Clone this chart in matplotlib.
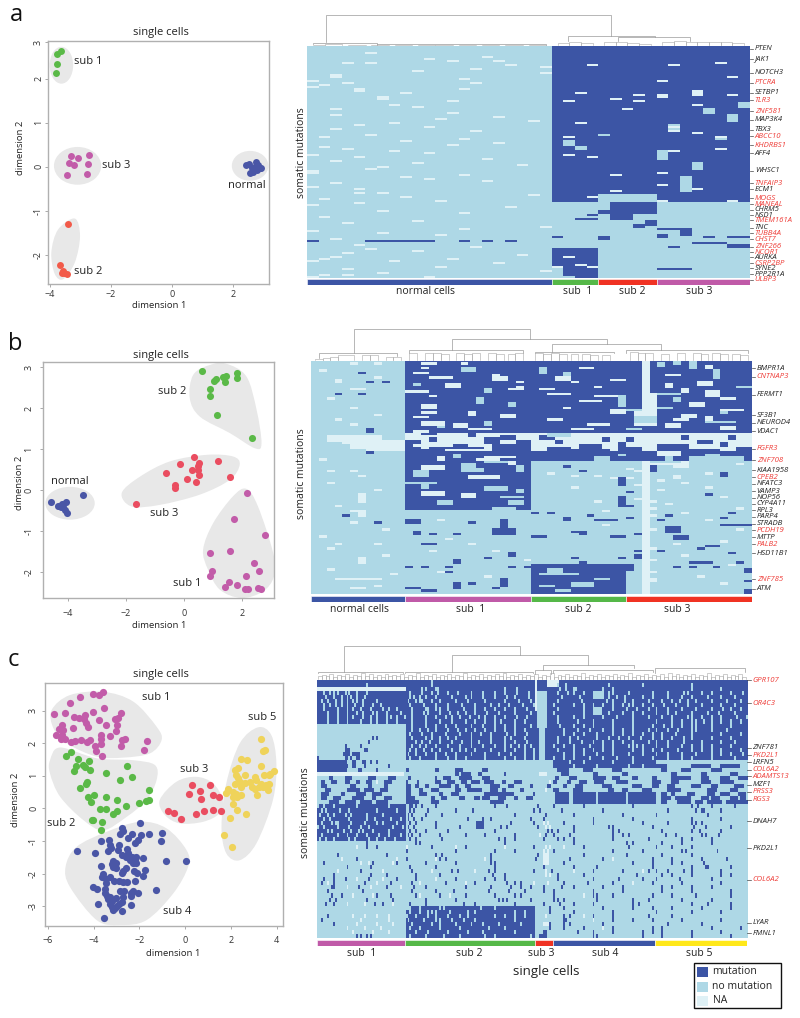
import numpy as np
import matplotlib
matplotlib.use('Agg')
import matplotlib.pyplot as plt
from matplotlib.colors import ListedColormap
from matplotlib.patches import Ellipse, PathPatch, Rectangle
from matplotlib.path import Path

plt.rcParams['font.family'] = ['Open Sans', 'DejaVu Sans']

W, H = 800, 1018
BLUE, GREEN, MAGENTA = '#4a56a6', '#5ab947', '#c25ca9'
RED_A, RED, YELLOW = '#f25a49', '#ea4d60', '#efd35a'
BAR_BLUE, BAR_GREEN, BAR_RED = '#3c55a5', '#55b848', '#f03223'
BAR_MAGENTA, BAR_YELLOW = '#c05aa8', '#ffe81a'
C_MUT, C_NO, C_NA = '#3c55a5', '#aed8e6', '#dff1f6'
BLOB = '#e8e8e8'
RED_TXT = '#ee3b36'

# ---- panel a scatter
a_sub1_x = [-3.63, -3.77, -3.77, -3.80]
a_sub1_y = [2.63, 2.57, 2.34, 2.14]
a_sub3_x = [-3.30, -3.08, -2.74, -3.39, -3.21, -2.77, -3.44, -2.78]
a_sub3_y = [0.24, 0.20, 0.27, 0.08, 0.03, 0.06, -0.20, -0.17]
a_sub2_x = [-3.41, -3.66, -3.57, -3.62, -3.54, -3.46]
a_sub2_y = [-1.31, -2.23, -2.37, -2.43, -2.42, -2.45]
a_norm_x = [2.44, 2.55, 2.75, 2.71, 2.82, 2.90, 2.77, 2.62, 2.66, 2.51, 2.93, 2.74]
a_norm_y = [0.04, -0.15, 0.11, 0.00, 0.04, -0.04, -0.08, -0.04, -0.11, 0.06, -0.02, 0.02]

# ---- panel b scatter
b_sub2_x = [0.61, 1.82, 1.81, 1.45, 1.34, 1.40, 1.11, 1.02, 0.89, 0.89, 1.12, 2.33]
b_sub2_y = [2.91, 2.85, 2.74, 2.77, 2.75, 2.64, 2.70, 2.65, 2.47, 2.30, 1.82, 1.28]
b_sub3_x = [0.34, 0.50, 1.15, -0.15, 0.48, 0.27, 0.48, -0.64, 0.52, 1.59, 0.10, 0.42, -0.33, -0.33, -1.65]
b_sub3_y = [0.80, 0.67, 0.70, 0.63, 0.58, 0.48, 0.48, 0.41, 0.37, 0.32, 0.27, 0.19, 0.13, 0.06, -0.33]
b_norm_x = [-3.47, -4.57, -4.08, -4.20, -4.34, -4.16, -4.23, -4.10, -4.04]
b_norm_y = [-0.11, -0.28, -0.30, -0.33, -0.38, -0.40, -0.42, -0.48, -0.55]
b_sub1_x = [2.16, 1.70, 2.78, 0.89, 1.58, 2.41, 2.58, 0.96, 0.89, 2.14, 1.55, 1.82, 1.42, 2.08, 2.20, 2.55, 2.65]
b_sub1_y = [-0.08, -0.70, -1.10, -1.53, -1.49, -1.78, -1.96, -1.96, -2.10, -2.09, -2.25, -2.32, -2.37, -2.42, -2.42, -2.39, -2.40]

# ---- panel c scatter
c_sub1_x = [-3.61, -3.76, -4.03, -4.60, -5.04, -3.57, -4.02, -5.73, -5.27, -4.38, -4.86, -4.63, -4.41, -3.77,
            -2.81, -2.95, -3.09, -3.00, -5.37, -4.34, -4.24, -3.46, -4.91, -3.04, -5.51, -5.33, -5.65, -5.39,
            -3.68, -3.30, -5.41, -5.24, -4.99, -4.82, -4.56, -4.28, -4.18, -3.68, -3.70, -2.61, -2.78, -2.79,
            -1.67, -3.96, -3.89, -1.78, -3.65]
c_sub1_y = [3.58, 3.48, 3.50, 3.41, 3.23, 3.09, 2.97, 2.91, 2.92, 2.87, 2.81, 2.79, 2.74, 2.73,
            2.92, 2.78, 2.74, 2.57, 2.57, 2.61, 2.49, 2.57, 2.47, 2.38, 2.45, 2.41, 2.26, 2.25,
            2.26, 2.22, 2.12, 2.12, 2.03, 2.06, 2.10, 2.04, 2.10, 2.12, 1.98, 2.14, 2.10, 1.93,
            2.07, 1.91, 1.75, 1.79, 1.60]
c_sub2_x = [-5.01, -5.20, -4.69, -4.21, -4.77, -4.48, -4.40, -4.85, -4.16, -2.56, -3.45, -2.31, -2.87, -4.31,
            -4.34, -4.59, -1.56, -4.00, -4.24, -3.45, -4.13, -3.00, -1.72, -1.57, -2.04, -2.58, -3.73, -3.46,
            -2.97, -3.14, -4.08, -4.02, -3.62, -3.68]
c_sub2_y = [1.72, 1.60, 1.53, 1.47, 1.30, 1.32, 1.27, 1.16, 1.18, 1.31, 1.08, 0.98, 0.86, 0.82,
            0.75, 0.64, 0.56, 0.41, 0.35, 0.35, 0.21, 0.26, 0.23, 0.25, 0.18, 0.07, -0.03, -0.02,
            -0.07, -0.17, -0.37, -0.37, -0.41, -0.67]
c_sub3_x = [0.28, 1.08, 0.17, 0.66, 1.24, 1.50, 0.68, -0.76, -0.47, -0.17, 0.49, 0.83, 1.22, 1.59]
c_sub3_y = [0.72, 0.72, 0.44, 0.52, 0.42, 0.34, 0.30, -0.08, -0.14, -0.32, -0.17, -0.08, -0.06, -0.07]
c_sub5_x = [3.32, 3.51, 3.42, 2.46, 2.69, 3.33, 2.31, 2.20, 3.87, 3.71, 3.45, 3.67, 2.63, 2.24, 2.29, 3.04,
            3.11, 2.42, 2.61, 2.82, 2.17, 2.46, 2.93, 3.33, 3.55, 3.67, 1.88, 3.04, 3.23, 3.41, 3.62, 1.80,
            2.10, 2.24, 2.46, 3.14, 2.10, 2.27, 2.10, 2.26, 2.65, 1.94, 1.70, 2.04]
c_sub5_y = [2.14, 1.79, 1.77, 1.51, 1.49, 1.30, 1.25, 1.18, 1.16, 1.07, 1.02, 1.02, 1.04, 1.02, 0.92, 0.95,
            0.87, 0.82, 0.79, 0.80, 0.75, 0.67, 0.67, 0.75, 0.72, 0.75, 0.61, 0.59, 0.67, 0.67, 0.58, 0.48,
            0.51, 0.44, 0.40, 0.42, 0.36, 0.36, 0.14, -0.05, -0.17, -0.28, -0.82, -1.18]
c_sub4_x = [-1.99, -2.75, -2.71, -2.85, -2.31, -1.91, -1.56, -1.02, -2.49, -2.07, -2.18, -1.05, -3.70, -3.33,
            -3.30, -2.88, -3.25, -3.39, -4.75, -3.96, -2.93, -2.56, -2.75, -2.49, -2.59, -2.34, -2.13, -1.86,
            -0.82, 0.03, -3.14, -2.40, -2.20, -3.22, -3.03, -2.30, -2.13, -3.70, -3.14, -3.01, -2.59, -2.71,
            -1.76, -2.23, -2.78, -2.10, -3.58, -3.65, -1.85, -3.29, -3.45, -2.21, -3.11, -2.88, -2.71, -2.56,
            -3.46, -4.05, -3.87, -3.49, -1.28, -2.83, -2.66, -2.30, -2.37, -2.05, -3.49, -3.44, -2.71, -3.04,
            -2.37, -3.36, -3.22, -2.78, -3.80, -3.29, -2.37, -2.88, -3.22, -3.07, -3.00, -2.78, -3.14, -3.54,
            -3.29]
c_sub4_y = [-0.45, -0.59, -0.69, -0.79, -0.77, -0.82, -0.77, -0.75, -0.90, -0.97, -1.07, -1.01, -1.01, -0.98,
            -1.13, -1.11, -1.20, -1.31, -1.31, -1.37, -1.28, -1.26, -1.43, -1.38, -1.48, -1.48, -1.50, -1.53,
            -1.61, -1.60, -1.61, -1.59, -1.59, -1.71, -1.69, -1.67, -1.69, -1.77, -1.79, -1.84, -1.82, -1.91,
            -1.88, -1.91, -1.98, -1.97, -2.02, -2.10, -2.09, -2.10, -2.17, -2.23, -2.24, -2.24, -2.27, -2.27,
            -2.30, -2.42, -2.46, -2.46, -2.49, -2.53, -2.53, -2.53, -2.61, -2.61, -2.61, -2.69, -2.73, -2.76,
            -2.69, -2.79, -2.85, -2.87, -2.92, -2.92, -2.95, -2.92, -3.02, -3.07, -2.99, -3.15, -3.12, -3.35,
            -2.71]

# ---- gene labels: (name, row, red?)
a_genes = [('PTEN', 1.3, 0), ('JAK1', 6.3, 0), ('NOTCH3', 13.5, 0), ('PTCRA', 18.5, 1), ('SETBP1', 23.3, 0),
           ('TLR3', 27.2, 1), ('ZNF581', 32.7, 1), ('MAP3K4', 36.8, 0), ('TBX3', 42, 0), ('ABCC10', 45.3, 1),
           ('KHDRBS1', 49.7, 1), ('AFF4', 53.7, 0), ('WHSC1', 62.5, 0), ('TNFAIP3', 68.8, 1), ('ECM1', 71.7, 0),
           ('MOGS', 76.3, 1), ('MANEAL', 79.2, 1), ('CHRM5', 82, 0), ('NSD1', 84.7, 0), ('TMEM161A', 87.2, 1),
           ('TNC', 91, 0), ('TUBB4A', 93.8, 1), ('CHST7', 96.7, 1), ('ZNF266', 100.5, 1), ('NCOR1', 103.2, 1),
           ('AURKA', 105.8, 0), ('CSRP2BP', 108.7, 1), ('SYNE2', 111.3, 0), ('PPP2R1A', 114.2, 0), ('ULBP3', 117, 1)]
b_genes = [('BMPR1A', 3.3, 0), ('CNTNAP3', 6.9, 1), ('FERMT1', 14.6, 0), ('SF3B1', 23.3, 0), ('NEUROD4', 26.6, 0),
           ('VDAC1', 30.3, 0), ('FGFR3', 37.7, 1), ('ZNF708', 42.7, 1), ('KIAA1958', 46.9, 0), ('CPEB2', 49.9, 1),
           ('NFATC3', 52.7, 0), ('VAMP3', 55.9, 0), ('NOP56', 58.7, 0), ('CYP4A11', 61.4, 0), ('RPL3', 64, 0),
           ('PARP4', 66.9, 0), ('STRADB', 69.9, 0), ('PCDH19', 72.7, 1), ('MTTP', 75.7, 0), ('PALB2', 78.7, 1),
           ('HSD11B1', 82.6, 0), ('ZNF785', 93.7, 1), ('ATM', 97.7, 0)]
c_genes = [('GPR107', 0.1, 1), ('OR4C3', 5.8, 1), ('ZNF781', 16.8, 0), ('PKD2L1', 18.6, 1), ('LRFN5', 20.4, 0),
           ('COL6A2', 22.2, 1), ('ADAMTS13', 23.9, 1), ('MZF1', 25.9, 0), ('PRSS3', 27.7, 1), ('RGS3', 29.7, 1),
           ('DNAH7', 35, 0), ('PKD2L1', 41.7, 0), ('COL6A2', 49.5, 1), ('LYAR', 60.2, 0), ('FMNL1', 62.7, 0)]

# ---- heatmap a: 116 mutations x 38 cells (0 no mutation, 1 mutation, 2 NA)
a_groups = [21, 4, 5, 8]
a_blocks = [(0, 78, 21, 38, 1), (74, 78, 25, 30, 0), (78, 84, 26, 30, 1), (84, 87, 26, 28, 1), (87, 90, 29, 30, 1),
            (88, 91, 28, 29, 1), (82, 84, 25, 26, 1), (95, 97, 25, 26, 1), (91, 92, 30, 33, 1), (91, 95, 32, 33, 1),
            (94, 96, 30, 31, 1), (95, 96, 36, 38, 1), (95, 96, 34, 35, 1), (99, 101, 36, 38, 1), (98, 99, 33, 36, 1),
            (95, 96, 21, 22, 1), (101, 111, 21, 22, 1), (101, 115, 22, 23, 1), (101, 116, 23, 25, 1),
            (47, 50, 22, 23, 0), (50, 52, 23, 24, 0), (52, 57, 30, 31, 0), (39, 43, 31, 32, 0), (58, 62, 33, 34, 0),
            (65, 73, 32, 33, 0), (31, 34, 34, 35, 0), (34, 38, 36, 37, 0), (28, 31, 37, 38, 0), (45, 47, 35, 36, 0),
            (44, 45, 25, 26, 0), (87, 89, 28, 29, 0), (97, 98, 5, 10, 1), (97, 98, 0, 1, 1), (97, 98, 10, 11, 1),
            (97, 98, 13, 14, 1), (97, 98, 15, 16, 1), (97, 98, 17, 18, 1), (111, 112, 30, 33, 1),
            (86, 87, 23, 25, 1), (84, 85, 24, 25, 1), (100, 101, 31, 32, 1)]
a_na = [(8, 3), (14, 2), (15, 2), (17, 0), (19, 1), (21, 4), (25, 6), (26, 6), (12, 9), (11, 14), (7, 16), (46, 13),
        (50, 1), (54, 0), (62, 0), (63, 0), (68, 2), (105, 2), (106, 12), (107, 0), (45, 1), (73, 4), (6, 10), (7, 12),
        (8, 5), (65, 8), (61, 5), (114, 1), (114, 3), (36, 11), (38, 7), (21, 13), (18, 14), (31, 2), (73, 6), (22, 4),
        (9, 24), (17, 30), (24, 30), (25, 30), (22, 33), (23, 33), (26, 26), (27, 28), (31, 27), (42, 31), (43, 33),
        (45, 22), (63, 30), (69, 30), (71, 33), (55, 24), (64, 26), (72, 26), (9, 31), (23, 23), (24, 33), (29, 33),
        (24, 28), (8, 35), (15, 36), (51, 35), (52, 31), (54, 22), (24, 36), (27, 22), (38, 23), (45, 35), (40, 31),
        (75, 24), (77, 36), (77, 30), (105, 22), (109, 23), (110, 24), (110, 21),
        (3, 5), (5, 15), (9, 17), (10, 20), (13, 20), (16, 13), (18, 3), (20, 0), (23, 8), (27, 12), (29, 7), (30, 9),
        (33, 12), (34, 2), (35, 16), (37, 19), (39, 4), (40, 10), (41, 2), (42, 14), (44, 5), (47, 8), (48, 16), (49, 12),
        (51, 3), (52, 7), (53, 10), (55, 4), (56, 15), (57, 2), (58, 9), (59, 18), (60, 6), (64, 13), (66, 10), (67, 15),
        (70, 0), (71, 4), (74, 19), (75, 8), (76, 1), (77, 11), (78, 4), (79, 0), (80, 17), (82, 6), (83, 13), (85, 1),
        (87, 9), (88, 3), (90, 20), (91, 13), (92, 0), (93, 6), (94, 11), (96, 2), (99, 4), (100, 14), (101, 5), (102, 9),
        (103, 3), (104, 18), (106, 1), (107, 7), (108, 16), (110, 11), (111, 3), (112, 20), (113, 6), (115, 0), (115, 10)]

# ---- heatmap b: 100 mutations x 56 cells
b_groups = [12, 16, 12, 16]
b_blocks = [(0, 31, 12, 56, 1), (31, 39, 12, 56, 2), (39, 43, 12, 56, 1), (43, 64, 12, 28, 1), (87, 100, 28, 40, 1),
            (87, 90, 40, 41, 1), (32, 34, 2, 9, 2), (34, 36, 4, 12, 2), (36, 38, 5, 12, 2), (38, 39, 7, 12, 2),
            (33, 35, 2, 6, 2), (0, 14, 42, 43, 2), (14, 22, 42, 44, 2), (22, 28, 41, 44, 2), (43, 100, 42, 43, 2),
            (31, 32, 14, 16, 1), (33, 35, 15, 16, 1), (34, 36, 12, 14, 1), (36, 37, 18, 20, 1), (31, 33, 20, 21, 1),
            (33, 36, 22, 24, 1), (32, 34, 24, 26, 1), (36, 39, 23, 28, 1), (35, 37, 12, 13, 1), (37, 39, 12, 14, 1),
            (37, 38, 15, 22, 1), (38, 39, 13, 17, 1), (34, 36, 26, 28, 1), (32, 34, 29, 31, 1), (34, 36, 31, 32, 1),
            (37, 39, 30, 33, 1), (36, 38, 34, 37, 1), (35, 39, 39, 40, 1), (33, 35, 37, 38, 1), (38, 39, 33, 38, 1),
            (32, 34, 47, 48, 1), (34, 36, 49, 51, 1), (32, 34, 53, 54, 1), (36, 39, 44, 48, 1), (35, 37, 52, 53, 1),
            (37, 39, 54, 56, 1), (38, 39, 48, 52, 1), (33, 35, 40, 41, 1), (37, 39, 40, 42, 1),
            (41, 43, 45, 46, 0), (41, 43, 48, 55, 0), (40, 41, 50, 52, 0), (39, 41, 44, 47, 2), (41, 43, 16, 17, 2),
            (40, 42, 18, 19, 0), (41, 42, 22, 26, 2), (42, 43, 21, 24, 2), (41, 43, 36, 38, 0), (40, 41, 39, 40, 0),
            (1, 2, 14, 16, 2), (1, 2, 19, 20, 2), (7, 8, 15, 18, 2), (6, 7, 23, 24, 2), (7, 9, 23, 25, 2), (9, 10, 26, 27, 2),
            (11, 12, 26, 27, 2), (12, 14, 22, 23, 0), (13, 14, 12, 15, 2), (15, 16, 15, 16, 2), (3, 6, 29, 30, 0),
            (5, 7, 32, 33, 0), (14, 15, 30, 33, 2), (7, 9, 31, 33, 2), (15, 16, 36, 39, 2), (15, 20, 39, 40, 0),
            (20, 21, 32, 33, 2), (0, 2, 46, 47, 0), (16, 18, 46, 47, 0), (0, 4, 48, 49, 0), (4, 8, 51, 52, 0),
            (21, 22, 40, 42, 0), (25, 26, 46, 48, 2), (24, 27, 41, 44, 0), (5, 6, 13, 15, 2), (3, 4, 14, 15, 2),
            (10, 11, 13, 14, 0), (16, 19, 21, 22, 0), (18, 20, 25, 26, 0), (22, 24, 20, 21, 2), (26, 28, 22, 23, 0),
            (27, 29, 18, 20, 2), (22, 23, 14, 16, 2), (24, 25, 13, 15, 2), (28, 29, 16, 17, 0), (11, 12, 36, 37, 2),
            (9, 10, 33, 34, 2), (24, 26, 50, 51, 2), (21, 23, 52, 53, 0), (13, 16, 50, 52, 2), (16, 17, 52, 54, 2),
            (10, 12, 45, 46, 2), (45, 47, 14, 17, 2), (44, 46, 19, 21, 0), (46, 48, 19, 22, 0), (43, 45, 25, 26, 2),
            (45, 48, 26, 27, 0), (47, 50, 13, 15, 0), (49, 51, 20, 24, 2), (52, 53, 12, 16, 0), (53, 55, 14, 15, 0),
            (54, 56, 22, 25, 0), (55, 57, 26, 27, 0), (56, 58, 14, 17, 2), (57, 59, 19, 21, 2), (58, 59, 24, 27, 0),
            (60, 62, 25, 27, 0), (60, 62, 16, 18, 0), (63, 64, 23, 26, 0), (43, 44, 22, 25, 0),
            (68, 70, 12, 14, 1), (68, 75, 24, 25, 1), (72, 75, 23, 26, 1), (73, 75, 13, 14, 1), (74, 75, 15, 16, 1),
            (74, 75, 18, 19, 1), (69, 70, 20, 21, 1), (78, 79, 14, 16, 1), (84, 85, 22, 23, 1), (82, 84, 25, 26, 1),
            (85, 87, 18, 19, 1), (93, 97, 24, 25, 1), (97, 98, 23, 24, 1), (95, 98, 18, 19, 1), (97, 98, 12, 14, 1),
            (98, 99, 14, 16, 1), (67, 69, 32, 33, 1), (68, 69, 36, 39, 1), (73, 74, 33, 35, 1), (75, 76, 38, 40, 1),
            (50, 54, 39, 40, 1), (58, 63, 39, 40, 1), (71, 74, 45, 47, 1), (75, 77, 46, 48, 1), (45, 48, 43, 44, 1),
            (86, 87, 48, 51, 1), (83, 85, 41, 42, 1), (89, 91, 55, 56, 1), (98, 100, 55, 56, 1), (79, 80, 50, 52, 1),
            (43, 46, 47, 48, 2), (44, 45, 44, 47, 2), (91, 92, 29, 34, 0), (89, 91, 30, 32, 0), (95, 97, 33, 36, 0),
            (93, 94, 36, 38, 0), (96, 97, 29, 31, 0), (98, 99, 31, 33, 0),
            (1, 3, 44, 45, 0), (2, 4, 50, 51, 2), (6, 7, 45, 47, 2), (9, 11, 49, 51, 2), (11, 12, 54, 56, 0), (12, 14, 47, 48, 2),
            (18, 20, 48, 50, 2), (20, 21, 44, 46, 0), (21, 22, 52, 55, 2), (23, 25, 47, 49, 2), (27, 29, 45, 47, 2),
            (28, 30, 52, 54, 2), (29, 30, 40, 42, 0), (26, 27, 50, 54, 0), (14, 15, 44, 47, 0), (31, 33, 30, 33, 0),
            (3, 4, 34, 36, 2), (8, 9, 38, 40, 2), (12, 13, 29, 31, 2), (17, 18, 34, 37, 2), (21, 23, 38, 40, 2), (25, 26, 30, 32, 2),
            (27, 28, 35, 38, 2), (29, 30, 33, 36, 2), (3, 5, 19, 21, 0), (10, 12, 17, 19, 2), (12, 13, 25, 27, 2), (19, 21, 14, 16, 2),
            (23, 25, 24, 26, 2), (26, 28, 14, 17, 2), (29, 30, 20, 23, 2), (30, 31, 13, 15, 2)]
b_mut = [(14, 3), (14, 6), (29, 7), (30, 7), (9, 9), (9, 7), (5, 6), (39, 7), (66, 4), (69, 8), (65, 28), (65, 30),
         (66, 35), (74, 34), (45, 32), (47, 34), (56, 40), (62, 40), (67, 40), (84, 33), (86, 34), (84, 39), (81, 41),
         (74, 41), (68, 44), (66, 45), (48, 52), (49, 52), (57, 50), (67, 52), (65, 53), (70, 53), (70, 54), (70, 52),
         (70, 55), (82, 53), (86, 54), (81, 44), (88, 46), (88, 48), (88, 51), (94, 55), (80, 49), (88, 12), (88, 14),
         (88, 17), (88, 25), (88, 27), (95, 20), (90, 17), (75, 28), (75, 29)]
b_na = [(1, 5), (1, 8), (8, 3), (9, 3), (12, 5), (12, 6), (7, 8), (23, 8), (25, 3), (20, 5), (47, 2), (47, 5), (49, 6),
        (57, 6), (58, 6), (59, 6), (60, 6), (64, 5), (64, 6), (65, 6), (66, 6), (80, 2), (84, 6), (85, 6), (86, 6),
        (93, 3), (93, 4), (93, 5), (93, 6), (93, 7), (93, 8), (97, 5), (97, 6), (78, 3), (78, 8), (44, 43), (45, 46),
        (49, 46), (50, 46), (48, 50), (51, 44), (55, 44), (60, 43), (63, 43), (66, 43), (72, 43), (80, 43), (85, 43),
        (90, 43), (93, 43), (94, 43), (65, 47), (78, 46), (48, 30), (49, 33), (49, 36), (50, 38), (46, 40), (54, 33),
        (60, 36), (64, 37), (70, 37), (78, 20), (81, 23), (85, 27), (90, 16), (92, 22), (68, 16), (76, 17), (81, 15),
        (50, 40), (52, 47), (54, 50), (58, 52), (61, 45), (63, 54), (68, 50), (72, 54), (77, 52), (83, 47), (87, 53),
        (92, 49), (95, 52), (44, 54), (47, 41), (53, 41), (59, 41), (4, 1), (16, 2), (27, 5), (42, 1), (52, 2), (55, 8),
        (62, 3), (69, 5), (72, 9), (75, 1), (83, 9), (89, 2), (91, 10), (96, 8)]

# ---- heatmap c: 64 mutations x 219 cells
c_groups = [45, 66, 9, 52, 47]
c_blocks = [(0, 3, 0, 219, 1), (2, 3, 0, 45, 2), (3, 11, 0, 219, 1), (11, 20, 45, 219, 1), (0, 2, 117, 123, 2),
            (0, 8, 111, 112, 2), (3, 12, 112, 117, 0), (12, 20, 113, 116, 0), (20, 23, 0, 15, 1), (23, 24, 0, 44, 2),
            (23, 24, 113, 117, 2), (28, 31, 121, 172, 1),
            (28, 31, 128, 130, 0), (28, 31, 142, 143, 0), (28, 31, 157, 158, 0), (31, 40, 0, 45, 1), (56, 64, 45, 111, 1),
            (20, 22, 120, 172, 1), (26, 31, 45, 48, 1), (21, 22, 172, 178, 1), (21, 22, 190, 200, 1), (21, 22, 205, 215, 1),
            (3, 5, 140, 146, 0), (7, 9, 140, 145, 0), (43, 46, 115, 118, 2), (60, 61, 115, 119, 2)]
c_mid_runs = [(22, 60, 62), (22, 70, 74), (22, 84, 87), (22, 122, 128), (22, 135, 140), (22, 150, 155), (22, 175, 178),
              (22, 185, 190), (22, 200, 206), (22, 45, 47),
              (23, 70, 72), (23, 73, 78), (23, 82, 84), (23, 95, 96), (23, 124, 128), (23, 140, 143), (23, 155, 158),
              (23, 180, 183), (23, 195, 198), (23, 210, 214),
              (24, 72, 79), (24, 60, 61), (24, 121, 123), (24, 140, 147), (24, 160, 163), (24, 180, 190), (24, 6, 8),
              (24, 14, 18), (24, 26, 30), (24, 36, 40), (24, 46, 48), (24, 64, 68), (24, 84, 88), (24, 128, 132),
              (24, 150, 154), (24, 170, 173), (24, 195, 199), (24, 205, 210), (24, 214, 219),
              (25, 2, 4), (25, 7, 10), (25, 20, 22), (25, 45, 46), (25, 51, 52), (25, 60, 63), (25, 73, 76), (25, 85, 90),
              (25, 94, 96), (25, 120, 122), (25, 127, 129), (25, 141, 146), (25, 170, 175), (25, 195, 200), (25, 14, 17),
              (25, 25, 28), (25, 34, 38), (25, 66, 70), (25, 78, 83), (25, 100, 104), (25, 133, 137), (25, 152, 158),
              (25, 180, 184), (25, 205, 212),
              (26, 17, 20), (26, 26, 28), (26, 55, 57), (26, 62, 68), (26, 75, 78), (26, 88, 93), (26, 117, 119),
              (26, 125, 127), (26, 145, 150), (26, 160, 165), (26, 190, 195), (26, 212, 217), (26, 2, 5), (26, 34, 36),
              (26, 50, 52), (26, 70, 72), (26, 97, 100), (26, 108, 110), (26, 131, 135), (26, 170, 174), (26, 178, 182),
              (26, 200, 204),
              (27, 15, 22), (27, 24, 29), (27, 52, 54), (27, 70, 73), (27, 88, 92), (27, 120, 123), (27, 148, 151),
              (27, 155, 158), (27, 198, 203), (27, 4, 7), (27, 32, 36), (27, 58, 62), (27, 76, 84), (27, 94, 96),
              (27, 103, 105), (27, 130, 135), (27, 165, 170), (27, 178, 185), (27, 210, 214),
              (28, 12, 14), (28, 20, 25), (28, 62, 64), (28, 85, 100), (28, 110, 111), (28, 180, 182), (28, 205, 210),
              (28, 2, 6), (28, 28, 33), (28, 52, 56), (28, 68, 72), (28, 175, 178), (28, 188, 192), (28, 198, 202),
              (28, 214, 218),
              (29, 2, 5), (29, 28, 30), (29, 48, 50), (29, 58, 60), (29, 72, 75), (29, 84, 88), (29, 100, 102),
              (29, 175, 180), (29, 195, 199), (29, 200, 205), (29, 210, 214), (29, 215, 218), (29, 8, 12), (29, 18, 24),
              (29, 34, 38), (29, 63, 66), (29, 80, 83), (29, 92, 96), (29, 106, 110), (29, 182, 190),
              (30, 6, 11), (30, 14, 20), (30, 22, 28), (30, 30, 36), (30, 48, 52), (30, 58, 62), (30, 88, 95),
              (30, 175, 178), (30, 183, 190), (30, 192, 196), (30, 198, 206), (30, 208, 219),
              (36, 81, 85)]
c_holes = {
    0: [58],
    1: [25, 58, 122, 126, 148, 165, 190],
    2: [53, 55, 60, 61, 95, 101, 123, 126, 130, 131, 145, 150, 190, 205],
    3: [3, 6, 8, 14, 16, 25, 53, 58, 61, 71, 78, 95, 101, 127, 130, 148, 150, 186, 188, 200, 210,
        10, 20, 47, 66, 84, 90, 107, 122, 135, 142, 158, 170, 178, 195, 216],
    4: [4, 8, 15, 17, 24, 49, 52, 55, 68, 75, 78, 90, 100, 148, 152, 170, 185, 190, 205,
        12, 20, 47, 60, 84, 96, 107, 124, 133, 156, 165, 178, 198, 212],
    5: [5, 9, 15, 18, 23, 30, 50, 52, 53, 62, 76, 95, 102, 147, 150, 160, 175, 180, 188, 192, 215,
        2, 12, 20, 46, 58, 70, 85, 108, 122, 134, 156, 168, 184, 200, 208],
    6: [6, 9, 15, 19, 23, 32, 54, 66, 80, 88, 97, 110, 130, 140, 150, 155, 158, 160, 170, 182, 195, 205,
        3, 12, 28, 47, 60, 73, 92, 104, 120, 135, 145, 165, 176, 188, 212],
    7: [15, 18, 22, 33, 36, 55, 56, 62, 66, 80, 90, 100, 150, 157, 162, 172, 185, 200, 210,
        3, 10, 27, 40, 48, 60, 74, 85, 95, 106, 122, 135, 168, 178, 192, 206, 215],
    8: [15, 20, 23, 30, 35, 54, 56, 67, 71, 80, 92, 100, 148, 155, 165, 172, 182, 190, 198,
        5, 10, 28, 42, 48, 62, 75, 86, 108, 120, 135, 160, 178, 204, 212],
    9: [15, 18, 23, 27, 30, 35, 37, 40, 55, 60, 65, 72, 77, 82, 90, 101, 135, 152, 160, 180, 188, 190, 195, 205, 213,
        5, 10, 44, 48, 68, 85, 95, 106, 122, 130, 145, 168, 175, 200, 218],
    10: [15, 22, 30, 40, 62, 68, 75, 85, 93, 100, 132, 150, 172, 190, 192, 200, 205, 210,
         5, 10, 27, 35, 48, 55, 80, 90, 105, 122, 140, 160, 180, 185, 196, 215],
    11: [60, 70, 78, 90, 100, 130, 140, 170, 185, 190, 192, 48, 55, 65, 84, 95, 108, 123, 135, 150, 160, 176, 180, 200, 210],
    12: [52, 56, 66, 71, 80, 95, 100, 138, 145, 160, 168, 178, 190, 192, 48, 60, 75, 85, 90, 105, 125, 132, 150, 155, 172, 183, 200, 208],
    13: [53, 65, 72, 88, 96, 125, 135, 150, 155, 165, 175, 47, 58, 78, 83, 100, 106, 130, 142, 160, 170, 182, 190, 205, 215],
    14: [55, 62, 70, 95, 98, 132, 142, 153, 158, 175, 180, 190, 48, 58, 66, 78, 88, 105, 122, 128, 148, 164, 170, 186, 200, 210],
    15: [50, 57, 73, 82, 95, 100, 128, 140, 150, 160, 168, 178, 195, 53, 62, 68, 78, 88, 106, 122, 134, 145, 155, 172, 186, 205, 212],
    16: [48, 52, 60, 72, 78, 90, 98, 105, 125, 138, 158, 160, 162, 172, 178, 185, 195, 55, 66, 84, 95, 102, 108, 120, 130, 145, 150, 165, 190, 200, 210],
    17: [47, 58, 68, 75, 88, 100, 130, 145, 165, 175, 183, 200, 50, 54, 62, 72, 80, 95, 105, 110, 122, 135, 140, 150, 160, 170, 190, 195, 205, 215],
    18: [46, 55, 65, 78, 92, 105, 135, 150, 165, 185, 200, 210, 50, 60, 70, 85, 98, 110, 125, 130, 142, 158, 172, 178, 192, 205, 216],
    19: [47, 60, 75, 95, 110, 125, 145, 170, 190, 52, 66, 70, 85, 100, 105, 120, 130, 138, 152, 160, 178, 185, 200, 212],
    20: [128, 135, 150, 160],
    21: [130, 142, 158, 165],
    31: [0, 3, 8, 20, 36],
    32: [2, 4, 11, 16, 30, 40],
    33: [1, 5, 8, 14, 17, 25, 33],
    34: [3, 6, 16, 25, 29, 37, 42],
    35: [2, 7, 9, 10, 17, 24, 30, 33, 40],
    36: [0, 3, 10, 16, 22, 26, 38, 43],
    37: [5, 7, 13, 17, 21, 23, 28, 36],
    38: [2, 10, 15, 20, 25, 31, 36, 42],
    39: [1, 4, 8, 16, 19, 26, 30, 34, 39],
    56: [45, 46, 47, 52, 62, 64, 83, 90],
    57: [47, 52, 56, 58, 60, 67, 76, 80, 100, 105],
    58: [45, 50, 56, 60, 66, 72, 76, 90, 95, 100, 105],
    59: [46, 54, 60, 62, 68, 74, 80, 100],
    60: [48, 58, 62, 70, 78, 84, 92, 103],
    61: [47, 52, 62, 72, 87, 95],
    62: [50, 56, 66, 76, 84, 100],
    63: [47, 55, 64, 72, 85, 90, 108],
}
c_dots = {
    14: [28, 30], 15: [26], 16: [14, 22], 17: [14, 15, 16, 24, 25], 18: [13, 14, 15, 16, 18, 19, 20, 21],
    19: [0, 14, 15, 17, 20, 21], 20: [18, 19, 23, 24, 27, 30], 21: [15, 18, 19, 24, 36], 22: [21, 22, 30],
    31: [47, 48, 50, 53, 90, 112, 190, 193, 60, 96, 120, 135, 160, 200, 212],
    32: [47, 49, 56, 79, 110, 113, 192, 195, 196, 70, 124, 145, 178, 205],
    33: [46, 48, 55, 116, 63, 100, 130, 155, 172, 198],
    34: [46, 49, 53, 76, 84, 88, 115, 190, 108, 140, 160, 205],
    35: [47, 50, 81, 82, 83, 84, 98, 110, 140, 165, 190, 192, 195, 60, 125, 178],
    36: [46, 49, 60, 93, 96, 130, 148, 150, 191, 197, 72, 112, 170, 210],
    37: [47, 50, 55, 90, 117, 119, 122, 130, 150, 153, 175, 190, 194, 66, 205],
    38: [46, 48, 52, 62, 85, 116, 120, 128, 150, 155, 158, 177, 182, 195, 197, 204, 75, 100],
    39: [47, 50, 63, 92, 95, 100, 115, 122, 125, 150, 185, 190, 130, 168, 200],
    40: [25, 50, 52, 95, 157, 160, 175, 130, 185, 200],
    41: [25, 30, 172, 180, 190, 58, 75, 110, 135, 158],
    42: [45, 90, 100, 150, 185, 187, 70, 120, 165, 203],
    43: [60, 63, 88, 157, 10, 35, 112, 135, 175, 190],
    44: [45, 62, 65, 88, 111, 145, 170, 195, 20, 128, 180, 208],
    45: [3, 28, 55, 88, 90, 180, 185, 196, 40, 70, 125, 160, 170],
    46: [15, 27, 47, 90, 115, 142, 170, 190, 197, 198, 60, 130, 210],
    47: [48, 68, 71, 87, 90, 110, 119, 168, 172, 178, 186, 190, 205, 22, 140, 155],
    48: [27, 35, 62, 89, 95, 122, 162, 175, 180, 205, 210, 8, 50, 135, 190],
    49: [3, 8, 14, 26, 50, 85, 90, 95, 122, 140, 153, 165, 172, 184, 40, 70, 200],
    50: [2, 8, 24, 37, 48, 80, 96, 100, 103, 125, 137, 150, 185, 65, 170, 205],
    51: [7, 8, 21, 49, 55, 88, 98, 103, 108, 115, 124, 130, 145, 155, 175, 180, 200, 35, 75, 190],
    52: [23, 48, 69, 87, 97, 115, 120, 140, 175, 190, 210, 5, 60, 105, 155],
    53: [7, 12, 30, 37, 50, 62, 90, 100, 103, 120, 140, 142, 150, 170, 180, 192, 75, 210],
    54: [6, 9, 25, 55, 70, 92, 94, 96, 108, 120, 122, 125, 142, 160, 168, 185, 38, 200],
    55: [4, 8, 29, 33, 47, 55, 74, 80, 100, 115, 123, 140, 160, 163, 190, 198, 130, 210],
    56: [118, 145, 170, 180, 195, 210, 125, 160],
    57: [118, 150, 172, 130, 190, 205],
    58: [5, 125, 128, 150, 180, 140, 168],
    59: [2, 125, 126, 150, 170, 185, 205, 160],
    60: [8, 118, 125, 128, 145, 178, 195],
    61: [118, 125, 150, 170, 175, 200, 135, 215],
    62: [115, 116, 140, 150, 165, 170, 175, 190, 205, 132],
    63: [20, 22, 25, 27, 113, 114, 115, 116, 140, 142, 165, 210, 175, 190],
}
c_light = {41: [20, 45, 70, 95, 125, 116, 118], 42: [115, 117], 44: [12, 40, 60, 85, 150], 47: [10, 33, 58, 80, 130, 165, 116],
           48: [116, 118], 50: [5, 30, 52, 75, 110, 160, 117], 53: [18, 28, 52, 67, 135], 58: [18, 24, 30, 36, 135, 116],
           61: [15, 24, 32, 145], 45: [22, 26, 38], 49: [20, 33, 60], 51: [15, 27, 42], 55: [15, 24, 38], 59: [22, 36, 140],
           60: [20, 30, 38], 62: [18, 28, 36], 25: [30, 118], 27: [116], 35: [115, 117], 36: [116, 118], 38: [113]}

# ---- dendrogram links: (left col, right col, left height, right height, top height)
a_links = [(1.6, 26.1, 3.7, 10, 31), (22.4, 29.9, 4.7, 8.7, 10), (26.7, 32.9, 4.7, 5.3, 8.7),
           (0.5, 6.0, 2.0, 2.0, 3.2), (6.0, 20.5, 1.2, 1.2, 2.0)]
a_leaves = [(0.5, 1.5, 1.5), (1.5, 3, 2), (3.5, 5, 1.2), (5.5, 7, 1.5), (7.5, 9, 1.0), (9.5, 11, 1.0), (11, 12.5, 1.2),
            (13, 14.5, 1.2), (15, 16.5, 1.0), (17, 18.5, 1.0), (19, 20.5, 1.0),
            (21.5, 22.5, 3.5), (22.5, 23.5, 4), (23.5, 24.5, 3.5), (25.5, 26.5, 4), (26.5, 27.5, 4.5), (27.5, 28.5, 3.5),
            (28.5, 29.5, 2.5), (30.5, 31.5, 4.5), (31.5, 32.5, 5), (32.5, 33.5, 4.5), (33.5, 34.5, 4),
            (34.5, 35.5, 4.5), (35.5, 36.5, 4), (36.5, 37.5, 3.5)]
b_links = [(5.55, 27.8, 7.3, 21.3, 31.3), (18.0, 37.6, 10.7, 16.7, 21.3), (30.6, 44.5, 9, 10.7, 16.7),
           (12.5, 27.0, 8, 8, 10.7), (28.5, 38.5, 8, 8, 9), (40, 55.5, 8, 8, 10.7), (1, 11, 3, 5, 7.3)]
b_leaves = [(0.5, 1.5, 1.5), (1.5, 2.5, 3), (2.5, 3.5, 4), (3.5, 5.5, 5.5), (6.5, 7.5, 6), (7.5, 8.5, 5.5), (9.5, 10.5, 4),
            (10.5, 11.5, 4),
            (12.5, 13.5, 7.5), (14.5, 15.5, 8), (15.5, 16.5, 7.5), (16.5, 17.5, 6.5), (18.5, 19.5, 8), (19.5, 20.5, 7),
            (20.5, 21.5, 7.5), (22.5, 23.5, 8), (23.5, 24.5, 7), (25, 26, 7), (26, 27, 7.5),
            (28.5, 29.5, 7.5), (29.5, 30.5, 7), (30.5, 31.5, 8), (31.5, 32.5, 7), (33, 34, 7), (34.5, 35.5, 6.5),
            (35.5, 36.5, 6), (37, 38, 6),
            (40.5, 41.5, 9), (41.5, 42.5, 8), (42.5, 43.5, 7.5), (44.5, 45.5, 7), (46.5, 47.5, 8), (48.5, 49.5, 7.5),
            (49.5, 50.5, 7), (51, 52, 7.5), (52, 53, 7), (53.5, 54.5, 6.5), (54.5, 55.5, 6)]
c_links = [(14, 103.4, 8.3, 25, 34), (69, 138, 8.3, 15, 25), (115.3, 161.5, 10, 11.7, 15),
           (0.5, 44, 7, 7, 8.3), (45, 110, 7, 7, 8.3), (111, 119, 6, 6, 10), (120, 171, 7, 8, 10), (172, 218, 7, 8, 11.7)]
c_leaf_tops = '4546354635474635364546354735463546354735463546473546354635473546354735'\
              '4635463547354635463746354635473546354635463547354635473546354635473546'
legend_labels = ['mutation', 'no mutation', 'NA']


def px_axes(fig, x0, y0, x1, y1):
    return fig.add_axes([x0 / W, 1 - y1 / H, (x1 - x0) / W, (y1 - y0) / H])


def px_text(fig, x, y, s, size=8, rotation=0, ha='center', color='#222222'):
    fig.text(x / W, 1 - y / H, s, fontsize=size, rotation=rotation, ha=ha, va='center', color=color)


def blob(ax, pts):
    # closed catmull-rom through the outline points
    pts = np.array(pts)
    n = len(pts)
    verts, codes = [pts[0]], [Path.MOVETO]
    for i in range(n):
        p0, p1, p2, p3 = pts[i - 1], pts[i], pts[(i + 1) % n], pts[(i + 2) % n]
        verts += [p1 + (p2 - p0) / 6, p2 - (p3 - p1) / 6, p2]
        codes += [Path.CURVE4] * 3
    ax.add_patch(PathPatch(Path(verts, codes), fc=BLOB, ec='none', zorder=1))


def scatter_panel(fig, box, xlim, ylim, xticks, yticks, ylabels, xpad, ypad):
    ax = px_axes(fig, *box)
    ax.set_xlim(xlim)
    ax.set_ylim(ylim)
    ax.set_xticks(xticks)
    ax.set_yticks(yticks)
    ax.set_yticklabels(ylabels, rotation=90, va='center')
    ax.tick_params(axis='x', labelsize=6.5, length=2, width=0.5, color='#888888', pad=xpad, labelcolor='#333333')
    ax.tick_params(axis='y', labelsize=6.5, length=2, width=0.5, color='#888888', pad=ypad, labelcolor='#333333')
    for s in ax.spines.values():
        s.set_color('#b0b0b0')
        s.set_linewidth(1.0)
    return ax


def heatmap(fig, box, bar_y, groups, bar_colors, blocks, cells, nrows, genes, label_dx):
    ncols = sum(groups)
    m = np.zeros((nrows, ncols), dtype=int)
    for r0, r1, c0, c1, v in blocks:
        m[r0:r1, c0:c1] = v
    for v, lst in cells:
        for r, c in lst:
            m[r, c] = v
    ax = px_axes(fig, *box)
    ax.imshow(m, cmap=ListedColormap([C_NO, C_MUT, C_NA]), vmin=0, vmax=2, aspect='auto',
              interpolation='nearest', extent=(0, ncols, nrows, 0))
    ax.set_axis_off()
    width = box[2] - box[0]
    trans = ax.get_yaxis_transform()
    for name, row, red in genes:
        ax.plot([1, 1 + (label_dx - 1.5) / width], [row, row], transform=trans, clip_on=False, color='#444444', lw=0.5)
        ax.text(1 + label_dx / width, row, name, transform=trans, fontsize=5.6, style='italic', va='center',
                ha='left', color=RED_TXT if red else '#222222', clip_on=False)
    ax.set_xlim(0, ncols)
    ax.set_ylim(nrows, 0)
    bar = px_axes(fig, box[0], bar_y[0], box[2], bar_y[1])
    start = 0
    for size, col in zip(groups, bar_colors):
        bar.barh(0, size, left=start, height=1, color=col, edgecolor='white', linewidth=0.4)
        start += size
    bar.set_xlim(0, ncols)
    bar.set_ylim(-0.5, 0.5)
    bar.set_axis_off()


def dendro(fig, box, ncols, links, leaves):
    ax = px_axes(fig, *box)
    ax.set_xlim(0, ncols)
    ax.set_ylim(0, box[3] - box[1])
    ax.set_axis_off()
    for x0, x1, h0, h1, top in links:
        ax.plot([x0, x0, x1, x1], [h0, top, top, h1], color='#9a9a9a', lw=0.5, solid_joinstyle='miter')
    for x0, x1, top in leaves:
        ax.plot([x0, x0, x1, x1], [0.8, top, top, 0.8], color='#a8a8a8', lw=0.4)
    return ax


fig = plt.figure(figsize=(W / 100, H / 100), dpi=100)

# ---------- panel a
px_text(fig, 16, 15, 'a', size=17, color='#111111')
ax = scatter_panel(fig, (48, 41.5, 269, 284), (-4.07, 3.18), (-2.67, 2.85), [-4, -2, 0, 2], [-2, -1, 0, 1, 2, 2.83],
                   ['-2', '-1', '0', '1', '2', '3'], 2.5, 1.5)
ax.add_patch(Ellipse((-3.63, 2.31), 0.77, 0.84, fc=BLOB, ec='none', zorder=1))
ax.add_patch(Ellipse((-3.10, 0.02), 1.55, 0.86, fc=BLOB, ec='none', zorder=1))
ax.add_patch(Ellipse((2.56, 0.02), 1.2, 0.68, fc=BLOB, ec='none', zorder=1))
blob(ax, [(-3.19, -1.18), (-3.02, -1.58), (-3.19, -2.18), (-3.57, -2.56), (-3.85, -2.44), (-3.96, -1.95), (-3.74, -1.43)])
ax.scatter(a_sub1_x, a_sub1_y, s=25, color=GREEN, lw=0, zorder=3)
ax.scatter(a_sub3_x, a_sub3_y, s=25, color=MAGENTA, lw=0, zorder=3)
ax.scatter(a_sub2_x, a_sub2_y, s=25, color=RED_A, lw=0, zorder=3)
ax.scatter(a_norm_x, a_norm_y, s=25, color=BLUE, lw=0, zorder=3)
px_text(fig, 161, 33, 'single cells')
px_text(fig, 159, 305, 'dimension 1', size=6.8)
px_text(fig, 20.7, 148, 'dimension 2', size=6.8, rotation=90)
for x, y, s in [(88, 62, 'sub 1'), (116, 166, 'sub 3'), (247, 186, 'normal'), (88, 271, 'sub 2')]:
    px_text(fig, x, y, s)

dendro(fig, (307.3, 12, 749.7, 46), 38, a_links, a_leaves)
heatmap(fig, (307.3, 46, 749.7, 277.7), (279.3, 285.3), a_groups, [BAR_BLUE, BAR_GREEN, BAR_RED, BAR_MAGENTA],
        a_blocks, [(2, a_na)], 116, a_genes, 5)
px_text(fig, 301.7, 153, 'somatic mutations', size=7.5, rotation=90)
for x, s in [(426, 'normal cells'), (578, 'sub  1'), (632, 'sub 2'), (699, 'sub 3')]:
    px_text(fig, x, 291, s, size=7.5)

# ---------- panel b
px_text(fig, 15, 344, 'b', size=17, color='#111111')
ax = scatter_panel(fig, (43.3, 361.7, 274, 598), (-4.85, 3.09), (-2.63, 3.13), [-4, -2, 0, 2], [-2, -1, 0, 1, 2, 3],
                   ['-2', '-1', '0', '1', '2', '3'], 6, 5)
blob(ax, [(1.45, 3.08), (2.14, 2.77), (2.49, 1.96), (2.66, 1.14), (2.43, 1.02), (1.57, 1.39), (0.54, 1.79), (0.19, 2.24), (0.31, 2.81), (0.88, 3.05)])
blob(ax, [(-2.15, -0.07), (-1.52, 0.33), (-0.49, 0.70), (0.77, 0.86), (1.68, 0.82), (1.91, 0.62), (1.57, 0.25), (0.54, -0.11), (-0.84, -0.36), (-1.81, -0.40)])
blob(ax, [(2.14, 0.03), (2.54, -0.40), (3.06, -1.53), (3.09, -2.10), (2.71, -2.47), (1.97, -2.63), (1.23, -2.43), (0.82, -1.94), (0.65, -1.45), (1.00, -0.80), (1.68, -0.15)])
ax.add_patch(Ellipse((-3.93, -0.32), 1.70, 0.80, fc=BLOB, ec='none', zorder=1))
ax.scatter(b_sub2_x, b_sub2_y, s=26, color=GREEN, lw=0, zorder=3)
ax.scatter(b_sub3_x, b_sub3_y, s=26, color=RED, lw=0, zorder=3)
ax.scatter(b_norm_x, b_norm_y, s=26, color=BLUE, lw=0, zorder=3)
ax.scatter(b_sub1_x, b_sub1_y, s=26, color=MAGENTA, lw=0, zorder=3)
px_text(fig, 161, 355, 'single cells')
px_text(fig, 159, 625.7, 'dimension 1', size=6.8)
px_text(fig, 20, 483, 'dimension 2', size=6.8, rotation=90)
for x, y, s in [(70, 481, 'normal'), (172, 392, 'sub 2'), (164, 514, 'sub 3'), (187, 584, 'sub 1')]:
    px_text(fig, x, y, s)

dendro(fig, (310.7, 327, 751.7, 360.7), 56, b_links, b_leaves)
heatmap(fig, (310.7, 360.7, 751.7, 594), (596.3, 602.3), b_groups, [BAR_BLUE, BAR_MAGENTA, BAR_GREEN, BAR_RED],
        b_blocks, [(1, b_mut), (2, b_na)], 100, b_genes, 5)
px_text(fig, 301.7, 474, 'somatic mutations', size=7.5, rotation=90)
for x, s in [(360, 'normal cells'), (471, 'sub  1'), (578, 'sub 2'), (677, 'sub 3')]:
    px_text(fig, x, 610, s, size=7.5)

# ---------- panel c
px_text(fig, 13, 660, 'c', size=17, color='#111111')
ax = scatter_panel(fig, (45, 682.7, 283, 926), (-6.13, 4.28), (-3.61, 3.86), [-6, -4, -2, 0, 2, 4], [-3, -2, -1, 0, 1, 2, 3],
                   ['-3', '-2', '-1', '0', '1', '2', '3'], 5, 3)
blob(ax, [(-5.84, 3.02), (-5.04, 3.48), (-3.58, 3.58), (-2.27, 3.28), (-1.25, 2.51), (-1.03, 2.10), (-1.54, 1.69), (-2.71, 1.56), (-3.87, 1.59), (-5.18, 2.00), (-5.76, 2.46)])
blob(ax, [(-5.91, 1.48), (-5.47, 1.87), (-3.87, 1.54), (-2.27, 1.48), (-1.32, 1.33), (-1.25, 0.87), (-1.69, 0.26), (-2.56, -0.26), (-3.58, -0.67), (-4.45, -0.36), (-5.47, 0.36), (-5.91, 1.07)])
blob(ax, [(-1.98, -0.41), (-0.82, -0.61), (0.06, -1.28), (0.13, -1.79), (-0.52, -2.61), (-1.69, -3.43), (-2.85, -3.58), (-3.87, -3.43), (-5.04, -2.41), (-5.23, -1.79), (-4.75, -1.18), (-3.44, -0.72)])
blob(ax, [(-1.11, 0.26), (-0.38, 0.82), (0.49, 0.97), (1.22, 0.77), (1.66, 0.26), (1.51, -0.15), (0.79, -0.41), (-0.23, -0.46), (-0.89, -0.20)])
blob(ax, [(3.19, 2.49), (3.77, 2.25), (3.99, 1.38), (3.84, 0.26), (3.12, -1.07), (2.39, -1.59), (1.80, -1.38), (1.59, -0.56), (1.80, 0.77), (2.39, 2.0)])
ax.scatter(c_sub1_x, c_sub1_y, s=27, color=MAGENTA, lw=0, zorder=3)
ax.scatter(c_sub2_x, c_sub2_y, s=27, color=GREEN, lw=0, zorder=3)
ax.scatter(c_sub3_x, c_sub3_y, s=27, color=RED, lw=0, zorder=3)
ax.scatter(c_sub5_x, c_sub5_y, s=27, color=YELLOW, lw=0, zorder=3)
ax.scatter(c_sub4_x, c_sub4_y, s=27, color=BLUE, lw=0, zorder=3)
px_text(fig, 161, 675, 'single cells')
px_text(fig, 173, 954, 'dimension 1', size=6.8)
px_text(fig, 15, 800, 'dimension 2', size=6.8, rotation=90)
for x, y, s in [(156, 697, 'sub 1'), (262, 718, 'sub 5'), (194, 769, 'sub 3'), (61, 824, 'sub 2'), (177, 912, 'sub 4')]:
    px_text(fig, x, y, s)

c_blocks_all = list(c_blocks)
for r, c0, c1 in c_mid_runs:
    c_blocks_all.append((r, r + 1, c0, c1, 1))
c_holes_cells = [(r, c) for r, cols in c_holes.items() for c in cols]
c_dot_cells = [(r, c) for r, cols in c_dots.items() for c in cols]
c_light_cells = [(r, c) for r, cols in c_light.items() for c in cols]
c_leaves = [(x + 0.5, x + 2.5, int(t)) for x, t in zip(range(0, 218, 2), c_leaf_tops)]
dendro(fig, (316.7, 644, 747.3, 680), 219, c_links, c_leaves)
heatmap(fig, (316.7, 680, 747.3, 938.3), (940, 946), c_groups, [BAR_MAGENTA, BAR_GREEN, BAR_RED, BAR_BLUE, BAR_YELLOW],
        c_blocks_all, [(0, c_holes_cells), (1, c_dot_cells), (2, c_light_cells)], 64, c_genes, 5)
px_text(fig, 305.7, 813, 'somatic mutations', size=7.5, rotation=90)
for x, s in [(362, 'sub  1'), (469, 'sub 2'), (541, 'sub 3'), (605, 'sub 4'), (699, 'sub 5')]:
    px_text(fig, x, 953, s, size=7.5)
px_text(fig, 546, 971, 'single cells', size=9.5)

# legend box
fig.add_artist(Rectangle((693.7 / W, 1 - 1008.3 / H), 87.6 / W, 45.6 / H, transform=fig.transFigure, fc='white', ec='#111111', lw=1))
for y, c, label in zip([971.7, 986.7, 1000.7], [C_MUT, C_NO, C_NA], legend_labels):
    fig.add_artist(Rectangle((697 / W, 1 - (y + 5) / H), 11 / W, 10 / H, transform=fig.transFigure, fc=c, ec='none'))
    px_text(fig, 712.5, y - 0.5, label, size=7.5, ha='left')

fig.savefig('out.png', dpi=100)
